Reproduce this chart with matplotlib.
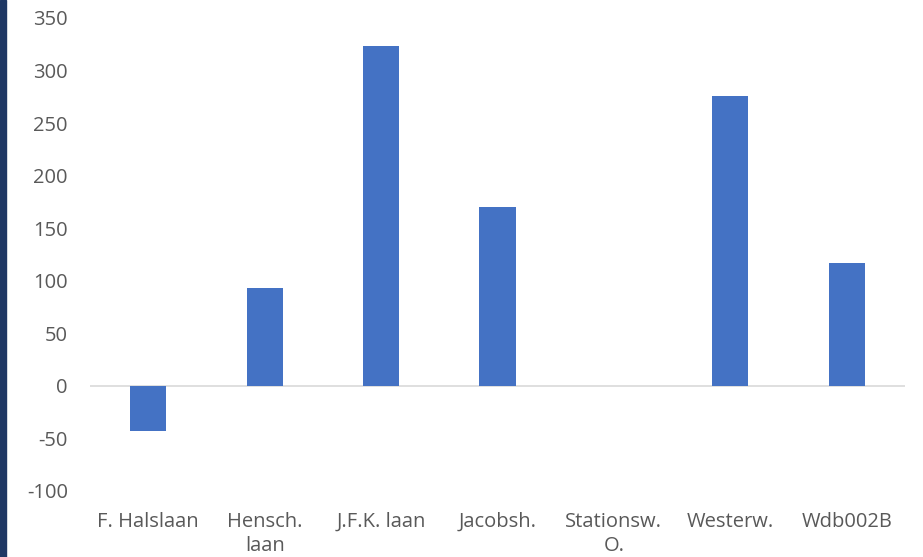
import matplotlib.pyplot as plt
import matplotlib.patches as patches
import numpy as np

plt.rcParams['font.family'] = ['Open Sans', 'DejaVu Sans']
plt.rcParams['axes.unicode_minus'] = False

categories = ['F. Halslaan', 'Hensch.\nlaan', 'J.F.K. laan', 'Jacobsh.',
              'Stationsw.\nO.', 'Westerw.', 'Wdb002B']
values = [-43, 93, 323, 170, 0, 276, 117]
yticks = [-100, -50, 0, 50, 100, 150, 200, 250, 300, 350]

fig = plt.figure(figsize=(9.23, 5.57), dpi=100)
ax = fig.add_axes([0.0975, 0.1185, 0.883, 0.8492])

x = np.arange(len(categories))
ax.bar(x, values, width=0.31, color='#4472C4', zorder=3)
ax.axhline(0, color='#D9D9D9', lw=1.2, zorder=2)

ax.set_xlim(-0.5, len(categories) - 0.5)
ax.set_ylim(-100, 350)
ax.set_yticks(yticks)
ax.set_xticks(x)
ax.set_xticklabels(categories, linespacing=1.3)
ax.tick_params(axis='both', length=0, colors='#595959', labelsize=14.5)
ax.tick_params(axis='y', pad=16)
ax.tick_params(axis='x', pad=15)
for s in ax.spines.values():
    s.set_visible(False)

# dark strip along the left edge
fig.patches.append(patches.Rectangle((0, 0), 6 / 923, 1, transform=fig.transFigure,
                                     color='#1F3864', zorder=0))

fig.savefig('out.png', dpi=100)
